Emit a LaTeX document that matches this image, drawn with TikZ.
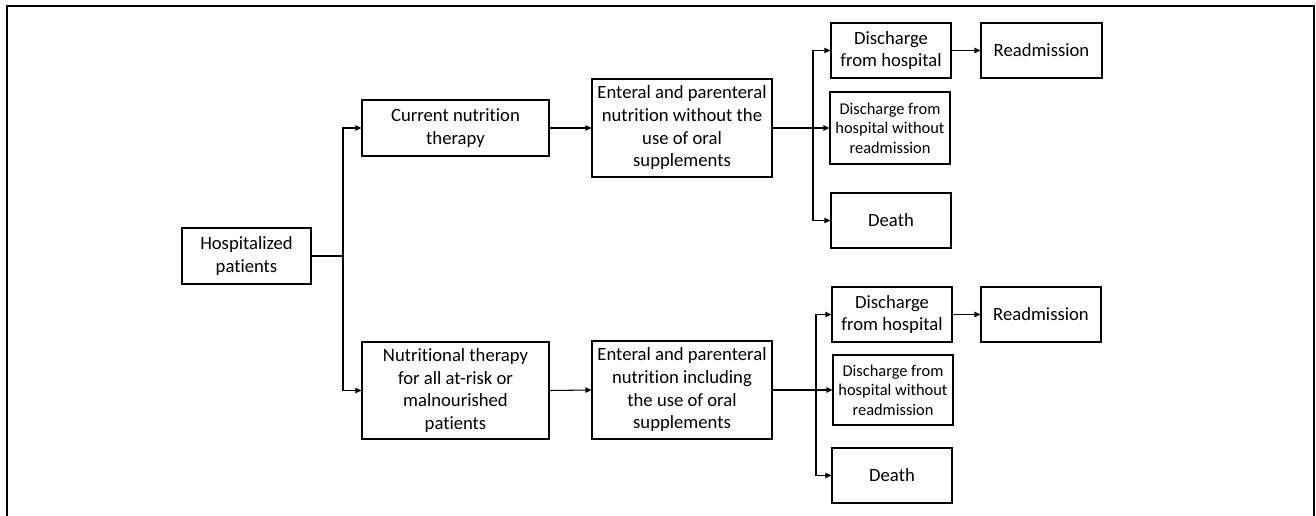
\documentclass[tikz,border=0pt]{standalone}
\usepackage{fontspec}
\setmainfont{Carlito}[Ligatures={NoCommon}]
\usetikzlibrary{arrows.meta}
\tikzset{
  box/.style 2 args={draw=black, line width=0.8pt, align=center, inner sep=0pt,
    minimum width=#1*0.75pt, minimum height=#2*0.75pt,
    font=\fontsize{14}{17}\selectfont},
  smallbox/.style={font=\fontsize{12.3}{14.6}\selectfont},
  arr/.style={draw=black, line width=0.8pt, -{Triangle[length=4.5pt,width=4pt]}},
  ln/.style={draw=black, line width=0.8pt},
}
\begin{document}
\begin{tikzpicture}[x=0.75pt,y=-0.75pt]
\useasboundingbox (0,0) rectangle (1316,516);
% frame
\draw[line width=1pt] (7,516) -- (7,6) -- (1314,6) -- (1314,516);
% nodes
\node[box={129}{56}] (hosp) at (246.5,256) {Hospitalized\\patients};
\node[box={187}{56}] (cur) at (455.5,128) {Current nutrition\\therapy};
\node[box={187}{97}] (nut) at (455.5,390.5) {Nutritional therapy\\for all at-risk or\\malnourished\\patients};
\node[box={180}{98}] (ent1) at (682,128) {Enteral and parenteral\\nutrition without the\\use of oral\\supplements};
\node[box={180}{98}] (ent2) at (682,390) {Enteral and parenteral\\nutrition including\\the use of oral\\supplements};
\node[box={120}{55}] (dis1) at (891,50.5) {Discharge\\from hospital};
\node[box={121}{55}] (rea1) at (1041.5,50.5) {Readmission};
\node[box={120}{72},smallbox] (dw1) at (890,128) {Discharge from\\hospital without\\readmission};
\node[box={120}{55}] (dth1) at (891,220.5) {Death};
\node[box={120}{55}] (dis2) at (892,314.5) {Discharge\\from hospital};
\node[box={120}{55}] (rea2) at (1041,314.5) {Readmission};
\node[box={120}{70},smallbox] (dw2) at (893,390) {Discharge from\\hospital without\\readmission};
\node[box={120}{55}] (dth2) at (892,475.5) {Death};
% junctions
\coordinate (b1) at (343,256);
\coordinate (s1) at (813,128);
\coordinate (s2) at (816,390);
% connectors
\draw[ln] (hosp.east) -- (b1);
\draw[arr] (b1) |- (cur.west);
\draw[arr] (b1) |- (nut.west);
\draw[arr] (cur.east) -- (ent1.west);
\draw[arr] (nut.east) -- (ent2.west);
\draw[arr] (ent1.east) -- (dw1.west);
\draw[arr] (s1) |- (dis1.west);
\draw[arr] (s1) |- (dth1.west);
\draw[arr] (dis1.east) -- (rea1.west);
\draw[arr] (ent2.east) -- (dw2.west);
\draw[arr] (s2) |- (dis2.west);
\draw[arr] (s2) |- (dth2.west);
\draw[arr] (dis2.east) -- (rea2.west);
\end{tikzpicture}
\end{document}
